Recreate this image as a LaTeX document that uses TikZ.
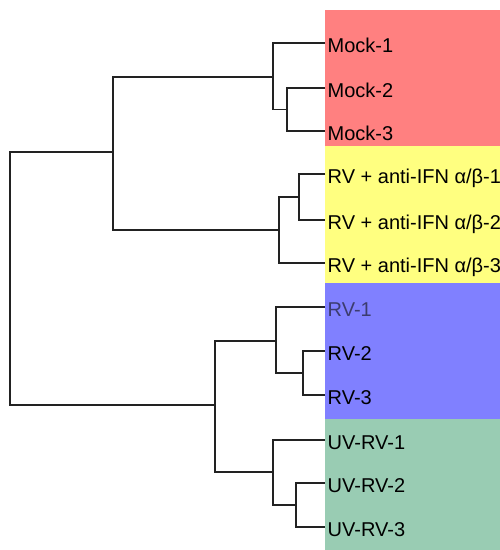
\documentclass[tikz,border=0pt]{standalone}
\usepackage{fontspec}
\setmainfont{Liberation Sans}
\definecolor{bandred}{HTML}{FF8080}
\definecolor{bandyellow}{HTML}{FFFF80}
\definecolor{bandblue}{HTML}{8080FF}
\definecolor{bandgreen}{HTML}{99CCB3}
\definecolor{branch}{HTML}{222222}
\definecolor{faded}{HTML}{3C3C6E}
\tikzset{
  branchline/.style={draw=branch,line width=1.1pt},
  leaflabel/.style={anchor=base west,inner sep=0pt,font=\fontsize{20}{20}\selectfont,text=black},
}
\begin{document}
\begin{tikzpicture}[x=1pt,y=-1pt]
\useasboundingbox (0,0) rectangle (500,550);
% colour bands
\fill[bandred] (325,10) rectangle (500,146);
\fill[bandyellow] (325,146) rectangle (500,283);
\fill[bandblue] (325,283) rectangle (500,419);
\fill[bandgreen] (325,419) rectangle (500,550);
% leaf tips
\coordinate (L1) at (325,43);
\coordinate (L2) at (325,88);
\coordinate (L3) at (325,131);
\coordinate (L4) at (325,174);
\coordinate (L5) at (325,220);
\coordinate (L6) at (325,263);
\coordinate (L7) at (325,307);
\coordinate (L8) at (325,351);
\coordinate (L9) at (325,395);
\coordinate (L10) at (325,440);
\coordinate (L11) at (325,483);
\coordinate (L12) at (325,527);
% labels
\node[leaflabel] (t1) at (327.5,52) {Mock-1};
\node[leaflabel] (t2) at (327.5,97) {Mock-2};
\node[leaflabel] (t3) at (327.5,140) {Mock-3};
\node[leaflabel] (t4) at (327.5,183) {RV + anti-IFN α/β-1};
\node[leaflabel] (t5) at (327.5,229) {RV + anti-IFN α/β-2};
\node[leaflabel] (t6) at (327.5,272) {RV + anti-IFN α/β-3};
\node[leaflabel,text=faded] (t7) at (327.5,316) {RV-1};
\node[leaflabel] (t8) at (327.5,360) {RV-2};
\node[leaflabel] (t9) at (327.5,404) {RV-3};
\node[leaflabel] (t10) at (327.5,449) {UV-RV-1};
\node[leaflabel] (t11) at (327.5,492) {UV-RV-2};
\node[leaflabel] (t12) at (327.5,536) {UV-RV-3};
% internal nodes
\coordinate (jM23) at (287,109.5);
\coordinate (jM) at (273,77);
\coordinate (jY12) at (299,197);
\coordinate (jY) at (279,230);
\coordinate (jMY) at (113,152);
\coordinate (jB23) at (303,373);
\coordinate (jB) at (276,341);
\coordinate (jG23) at (296,505);
\coordinate (jG) at (273,472);
\coordinate (jBG) at (215,405);
\coordinate (root) at (10,278);
% branches
\draw[branchline] (L2) -| (jM23) |- (L3);
\draw[branchline] (L1) -| (jM) |- (jM23);
\draw[branchline] (L4) -| (jY12) |- (L5);
\draw[branchline] (jY12) -| (jY) |- (L6);
\draw[branchline] (jM) -| (jMY) |- (jY);
\draw[branchline] (L8) -| (jB23) |- (L9);
\draw[branchline] (L7) -| (jB) |- (jB23);
\draw[branchline] (L11) -| (jG23) |- (L12);
\draw[branchline] (L10) -| (jG) |- (jG23);
\draw[branchline] (jB) -| (jBG) |- (jG);
\draw[branchline] (jMY) -| (root) |- (jBG);
\end{tikzpicture}
\end{document}
